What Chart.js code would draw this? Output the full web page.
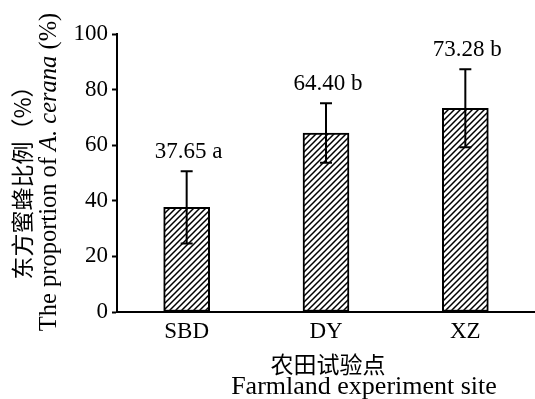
<!DOCTYPE html>
<html>
<head>
<meta charset="utf-8">
<script src="https://cdn.jsdelivr.net/npm/chart.js@4.4.1/dist/chart.umd.min.js"></script>
<style>
  html, body { margin: 0; padding: 0; background: #fff; }
  #wrap { width: 535px; height: 399px; position: relative; }
</style>
</head>
<body>
<div id="wrap"><canvas id="c" width="535" height="399"></canvas></div>
<script>
// Sites, mean proportion of A. cerana, standard error and significance letters
const categories = ['SBD', 'DY', 'XZ'];
const proportions = [37.65, 64.40, 73.28];
const errors = [13.0, 10.7, 14.0];
const letters = ['a', 'b', 'b'];
const yTicks = [0, 20, 40, 60, 80, 100];

const SERIF = '"Liberation Serif", "Times New Roman", serif';
const CJK = '"Noto Sans CJK SC", sans-serif';

// Diagonal "////" hatch fill for the bars
function makeHatch() {
  const s = 6;
  const c = document.createElement('canvas');
  c.width = s; c.height = s;
  const g = c.getContext('2d');
  g.fillStyle = '#fff';
  g.fillRect(0, 0, s, s);
  g.strokeStyle = '#000';
  g.lineWidth = 1.5;
  g.beginPath();
  g.moveTo(0, s); g.lineTo(s, 0);
  g.moveTo(-1, 1); g.lineTo(1, -1);
  g.moveTo(s - 1, s + 1); g.lineTo(s + 1, s - 1);
  g.stroke();
  return g.createPattern(c, 'repeat');
}

// Error bars with caps plus the "mean letter" label above each bar
const errorBars = {
  id: 'errorBars',
  afterDatasetsDraw(chart) {
    const ctx = chart.ctx;
    const meta = chart.getDatasetMeta(0);
    const y = chart.scales.y;
    ctx.save();
    ctx.strokeStyle = '#000';
    ctx.lineWidth = 2;
    meta.data.forEach((bar, i) => {
      const v = proportions[i], e = errors[i];
      const x = bar.x;
      const yt = y.getPixelForValue(v + e);
      const yb = y.getPixelForValue(v - e);
      const cap = 6;
      ctx.beginPath();
      ctx.moveTo(x, yt); ctx.lineTo(x, yb);
      ctx.moveTo(x - cap, yt); ctx.lineTo(x + cap, yt);
      ctx.moveTo(x - cap, yb); ctx.lineTo(x + cap, yb);
      ctx.stroke();
      ctx.fillStyle = '#000';
      ctx.font = '23px ' + SERIF;
      ctx.textAlign = 'center';
      ctx.textBaseline = 'alphabetic';
      ctx.fillText(v.toFixed(2) + ' ' + letters[i], x + 2, yt - 13);
    });
    ctx.restore();
  }
};

// Two-line axis titles (Chinese + English, with the italic species name)
const axisTitles = {
  id: 'axisTitles',
  afterDraw(chart) {
    const ctx = chart.ctx;
    ctx.save();
    ctx.fillStyle = '#000';

    // y axis, rotated
    const segs = [
      { t: 'The proportion of ', f: '24.5px ' + SERIF },
      { t: 'A. cerana', f: 'italic 24.5px ' + SERIF },
      { t: ' (%)', f: '24.5px ' + SERIF }
    ];
    let total = 0;
    segs.forEach(s => { ctx.font = s.f; s.w = ctx.measureText(s.t).width; total += s.w; });
    ctx.save();
    ctx.translate(49, 172);
    ctx.rotate(-Math.PI / 2);
    ctx.textBaseline = 'middle';
    ctx.textAlign = 'left';
    let px = -total / 2;
    segs.forEach(s => { ctx.font = s.f; ctx.fillText(s.t, px, 1); px += s.w; });
    ctx.restore();

    ctx.save();
    ctx.translate(22, 177);
    ctx.rotate(-Math.PI / 2);
    ctx.font = '23px ' + CJK;
    ctx.textAlign = 'center';
    ctx.textBaseline = 'middle';
    ctx.fillText('东方蜜蜂比例（%）', 0, 0);
    ctx.restore();

    // x axis
    ctx.textAlign = 'center';
    ctx.textBaseline = 'middle';
    ctx.font = '23px ' + CJK;
    ctx.fillText('农田试验点', 328, 364);
    ctx.textBaseline = 'alphabetic';
    ctx.font = '26px ' + SERIF;
    ctx.fillText('Farmland experiment site', 364, 394);
    ctx.restore();
  }
};

new Chart(document.getElementById('c'), {
  type: 'bar',
  data: {
    labels: categories,
    datasets: [{
      data: proportions,
      backgroundColor: makeHatch(),
      borderColor: '#000',
      borderWidth: 2,
      borderSkipped: false,
      barThickness: 46
    }]
  },
  options: {
    responsive: false,
    animation: false,
    events: [],
    layout: { padding: { top: 34, left: 0, right: 0, bottom: 0 } },
    plugins: { legend: { display: false }, tooltip: { enabled: false } },
    scales: {
      x: {
        afterFit(s) { s.height = 87; },
        grid: { display: false },
        border: { display: true, color: '#000', width: 2 },
        ticks: { color: '#000', font: { family: SERIF, size: 23 }, padding: -2 }
      },
      y: {
        min: 0,
        max: 100,
        afterFit(s) { s.width = 117; },
        afterBuildTicks(s) { s.ticks = yTicks.map(v => ({ value: v })); },
        grid: { display: true, drawOnChartArea: false, drawTicks: true, tickLength: 5, tickColor: '#000', tickWidth: 2 },
        border: { display: true, color: '#000', width: 2 },
        ticks: { color: '#000', font: { family: SERIF, size: 23 }, padding: 4 }
      }
    }
  },
  plugins: [errorBars, axisTitles]
});
</script>
</body>
</html>
